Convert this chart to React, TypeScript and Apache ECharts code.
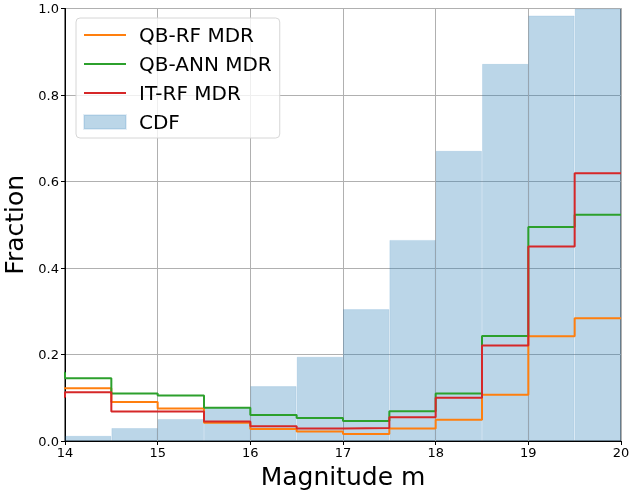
import React, { useEffect, useRef } from "react";
import * as echarts from "echarts";

// Left edges of the 0.5-wide magnitude bins (the 13.5 bin lies just left of the axis range)
const binLeft = [13.5, 14, 14.5, 15, 15.5, 16, 16.5, 17, 17.5, 18, 18.5, 19, 19.5];
const binRight = 20;

// Histogram bins shown in the plot
const cdfBins = ["14.0", "14.5", "15.0", "15.5", "16.0", "16.5", "17.0", "17.5", "18.0", "18.5", "19.0", "19.5"];
const cdf = [0.012, 0.03, 0.051, 0.077, 0.127, 0.195, 0.305, 0.465, 0.671, 0.872, 0.984, 1.0];

// Missed-detection rates per bin (first entry is the 13.5 bin)
const qbRf = [0.122, 0.122, 0.09, 0.075, 0.042, 0.028, 0.022, 0.016, 0.029, 0.049, 0.107, 0.242, 0.284];
const qbAnn = [0.158, 0.145, 0.11, 0.105, 0.077, 0.06, 0.053, 0.046, 0.069, 0.11, 0.243, 0.495, 0.523];
const itRf = [0.102, 0.113, 0.068, 0.068, 0.045, 0.034, 0.029, 0.03, 0.055, 0.1, 0.221, 0.45, 0.619];

const xTicks = [14, 15, 16, 17, 18, 19, 20];

const FONT = "DejaVu Sans";
// Thin bar used as the legend marker of the step lines
const LINE_ICON = "path://M0,0H42V2H0Z";

function stepData(values: number[]) {
  const pts = binLeft.map((x, i) => [x, values[i]]);
  pts.push([binRight, values[values.length - 1]]);
  return pts;
}

export default function App() {
  const ref = useRef<HTMLDivElement>(null);

  useEffect(() => {
    if (!ref.current) return;
    const chart = echarts.init(ref.current, null, { renderer: "svg" });
    const lineSeries = (name: string, values: number[], color: string) => ({
      name,
      type: "line",
      xAxisIndex: 0,
      yAxisIndex: 0,
      step: "end",
      symbol: "none",
      data: stepData(values),
      lineStyle: { color, width: 2 },
      itemStyle: { color },
      clip: true,
      z: 3,
    });
    chart.setOption({
      animation: false,
      textStyle: { fontFamily: FONT },
      grid: {
        left: 65,
        right: 10,
        top: 8.5,
        bottom: 52,
        outerBoundsMode: "none",
        containLabel: false,
        show: true,
        borderColor: "#000",
        borderWidth: 1,
        backgroundColor: "transparent",
      },
      legend: {
        orient: "vertical",
        left: 76,
        top: 18,
        itemWidth: 42,
        itemHeight: 14,
        itemGap: 9,
        padding: [7, 8, 6, 7],
        backgroundColor: "rgba(255,255,255,0.8)",
        borderColor: "#d6d6d6",
        borderWidth: 1,
        borderRadius: 4,
        textStyle: { fontSize: 20, fontFamily: FONT, color: "#000", padding: [0, 0, 0, 8] },
        data: [
          { name: "QB-RF MDR", icon: LINE_ICON },
          { name: "QB-ANN MDR", icon: LINE_ICON },
          { name: "IT-RF MDR", icon: LINE_ICON },
          { name: "CDF", icon: "rect" },
        ],
      },
      xAxis: [
        {
          type: "value",
          min: 14,
          max: 20,
          interval: 1,
          name: "Magnitude m",
          nameLocation: "middle",
          nameGap: 22,
          nameTextStyle: { fontSize: 25, fontFamily: FONT, color: "#000" },
          axisLine: { show: true, lineStyle: { color: "#000", width: 1 } },
          axisTick: { show: true, length: 4, lineStyle: { color: "#000" } },
          axisLabel: {
            fontSize: 13,
            fontFamily: FONT,
            color: "#000",
            margin: 5,
            formatter: (v: number) => (xTicks.includes(v) ? String(v) : ""),
          },
          splitLine: { show: true, lineStyle: { color: "#b0b0b0", width: 1 } },
        },
        {
          type: "category",
          data: cdfBins,
          show: false,
          boundaryGap: true,
        },
      ],
      yAxis: {
        type: "value",
        min: 0,
        max: 1,
        interval: 0.2,
        name: "Fraction",
        nameLocation: "middle",
        nameGap: 32,
        nameTextStyle: { fontSize: 25, fontFamily: FONT, color: "#000" },
        axisLine: { show: true, lineStyle: { color: "#000", width: 1 } },
        axisTick: { show: true, length: 4, lineStyle: { color: "#000" } },
        axisLabel: {
          fontSize: 13,
          fontFamily: FONT,
          color: "#000",
          margin: 6,
          formatter: (v: number) => v.toFixed(1),
        },
        splitLine: { show: true, lineStyle: { color: "#b0b0b0", width: 1 } },
      },
      series: [
        {
          name: "CDF",
          type: "bar",
          xAxisIndex: 1,
          yAxisIndex: 0,
          data: cdf,
          barWidth: "100%",
          barCategoryGap: "0%",
          itemStyle: {
            color: "rgba(31,119,180,0.3)",
            borderColor: "rgba(31,119,180,0.12)",
            borderWidth: 1,
          },
          z: 1,
        },
        lineSeries("QB-RF MDR", qbRf, "#ff7f0e"),
        lineSeries("QB-ANN MDR", qbAnn, "#2ca02c"),
        lineSeries("IT-RF MDR", itRf, "#d62728"),
      ],
    });
    return () => chart.dispose();
  }, []);

  return (
    <div
      ref={ref}
      style={{ position: "fixed", left: 0, top: 0, width: 631, height: 493 }}
    />
  );
}
